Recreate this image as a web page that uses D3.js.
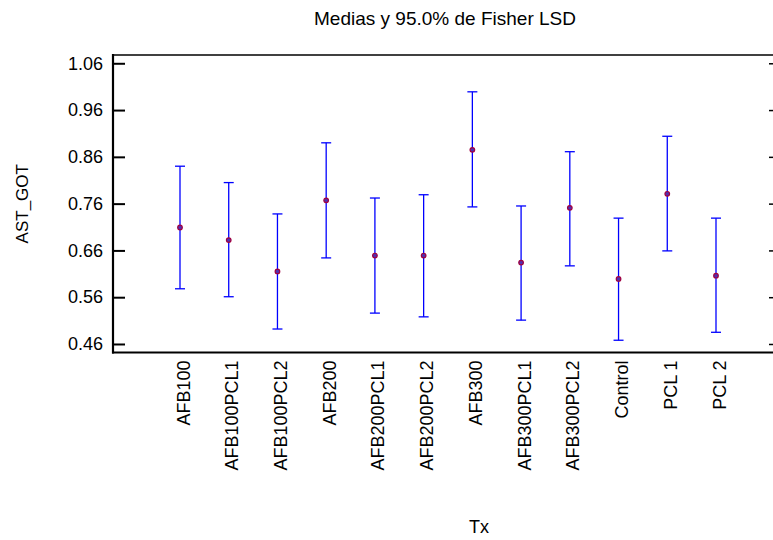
<!DOCTYPE html>
<html>
<head>
<meta charset="utf-8">
<script src="https://cdn.jsdelivr.net/npm/d3@7"></script>
<style>
  html, body { margin: 0; padding: 0; background: #fff; }
  svg { display: block; font-family: "Liberation Sans", Arial, sans-serif; }
</style>
</head>
<body>
<svg id="chart" width="773" height="540"></svg>
<script>
// Treatment groups on the x axis
const categories = ["AFB100", "AFB100PCL1", "AFB100PCL2", "AFB200", "AFB200PCL1", "AFB200PCL2",
                    "AFB300", "AFB300PCL1", "AFB300PCL2", "Control", "PCL 1", "PCL 2"];
// Group means of AST_GOT
const means = [0.709, 0.682, 0.615, 0.767, 0.649, 0.649, 0.875, 0.634, 0.751, 0.599, 0.781, 0.606];
// Fisher LSD 95% interval limits
const lower = [0.578, 0.561, 0.492, 0.644, 0.526, 0.518, 0.753, 0.511, 0.627, 0.468, 0.659, 0.485];
const upper = [0.840, 0.805, 0.738, 0.890, 0.772, 0.779, 0.999, 0.755, 0.871, 0.729, 0.904, 0.729];
// Y axis tick values
const yTicks = [0.46, 0.56, 0.66, 0.76, 0.86, 0.96, 1.06];

const svg = d3.select("#chart");
const frame = { left: 113, right: 781, top: 55, bottom: 352.5 };

const x = d3.scalePoint().domain(categories).range([180, 716]);
const y = d3.scaleLinear().domain([0.4418, 1.0777]).range([frame.bottom, frame.top]);

const rows = categories.map((c, i) => ({ c, m: means[i], lo: lower[i], hi: upper[i] }));

// Title
svg.append("text")
  .attr("x", 445).attr("y", 25)
  .attr("text-anchor", "middle")
  .attr("font-size", 19)
  .attr("fill", "#000")
  .text("Medias y 95.0% de Fisher LSD");

// Frame: top and right (thin), left and bottom (heavy)
svg.append("line").attr("x1", frame.left).attr("x2", frame.right)
  .attr("y1", frame.top).attr("y2", frame.top)
  .attr("stroke", "#000").attr("stroke-width", 1.3);
svg.append("line").attr("x1", frame.right).attr("x2", frame.right)
  .attr("y1", frame.top).attr("y2", frame.bottom)
  .attr("stroke", "#000").attr("stroke-width", 1.3);

// Left axis with inward ticks
const yAxis = d3.axisLeft(y).tickValues(yTicks).tickFormat(d3.format(".2f"))
  .tickSizeInner(-12).tickSizeOuter(0).tickPadding(10);
const gy = svg.append("g").attr("transform", `translate(${frame.left},0)`).call(yAxis);
gy.select(".domain").remove();
gy.selectAll(".tick line").attr("stroke", "#000").attr("stroke-width", 2);
gy.selectAll(".tick text").attr("font-size", 18).attr("fill", "#000")
  .attr("font-family", "Liberation Sans, Arial, sans-serif");

// Right axis ticks (inward, no labels)
const yAxisR = d3.axisRight(y).tickValues(yTicks).tickFormat("")
  .tickSizeInner(-12).tickSizeOuter(0);
const gyr = svg.append("g").attr("transform", `translate(${frame.right},0)`).call(yAxisR);
gyr.select(".domain").remove();
gyr.selectAll(".tick line").attr("stroke", "#000").attr("stroke-width", 1.5);

svg.append("line").attr("x1", frame.left).attr("x2", frame.left)
  .attr("y1", frame.top - 1).attr("y2", frame.bottom + 1)
  .attr("stroke", "#000").attr("stroke-width", 2.2);

// Bottom axis: category labels rotated, no ticks
const xAxis = d3.axisBottom(x).tickSize(0).tickPadding(0);
const gx = svg.append("g").attr("transform", `translate(0,${frame.bottom})`).call(xAxis);
gx.select(".domain").remove();
gx.selectAll(".tick text")
  .attr("font-size", 18).attr("fill", "#000")
  .attr("font-family", "Liberation Sans, Arial, sans-serif")
  .attr("text-anchor", "end")
  .attr("transform", "translate(9,8) rotate(-90)")
  .attr("x", 0).attr("y", 0).attr("dy", 0);
svg.append("line").attr("x1", frame.left - 1).attr("x2", frame.right)
  .attr("y1", frame.bottom).attr("y2", frame.bottom)
  .attr("stroke", "#000").attr("stroke-width", 2.2);

// Axis titles
svg.append("text")
  .attr("transform", `translate(28,${(frame.top + frame.bottom) / 2}) rotate(-90)`)
  .attr("text-anchor", "middle")
  .attr("font-size", 17).attr("fill", "#000")
  .text("AST_GOT");
svg.append("text")
  .attr("x", 479).attr("y", 533)
  .attr("text-anchor", "middle")
  .attr("font-size", 18).attr("fill", "#000")
  .text("Tx");

// Interval bars
const bars = svg.append("g").attr("stroke", "#0000ff").attr("stroke-width", 1.3);
bars.selectAll("line.v").data(rows).join("line").attr("class", "v")
  .attr("x1", d => x(d.c)).attr("x2", d => x(d.c))
  .attr("y1", d => y(d.hi)).attr("y2", d => y(d.lo));
bars.selectAll("line.hi").data(rows).join("line").attr("class", "hi")
  .attr("x1", d => x(d.c) - 5).attr("x2", d => x(d.c) + 5)
  .attr("y1", d => y(d.hi)).attr("y2", d => y(d.hi));
bars.selectAll("line.lo").data(rows).join("line").attr("class", "lo")
  .attr("x1", d => x(d.c) - 5).attr("x2", d => x(d.c) + 5)
  .attr("y1", d => y(d.lo)).attr("y2", d => y(d.lo));

// Mean markers
svg.append("g").selectAll("circle").data(rows).join("circle")
  .attr("cx", d => x(d.c)).attr("cy", d => y(d.m))
  .attr("r", 2.3)
  .attr("fill", "#5030b0")
  .attr("stroke", "#a00040")
  .attr("stroke-width", 1.2);
</script>
</body>
</html>
